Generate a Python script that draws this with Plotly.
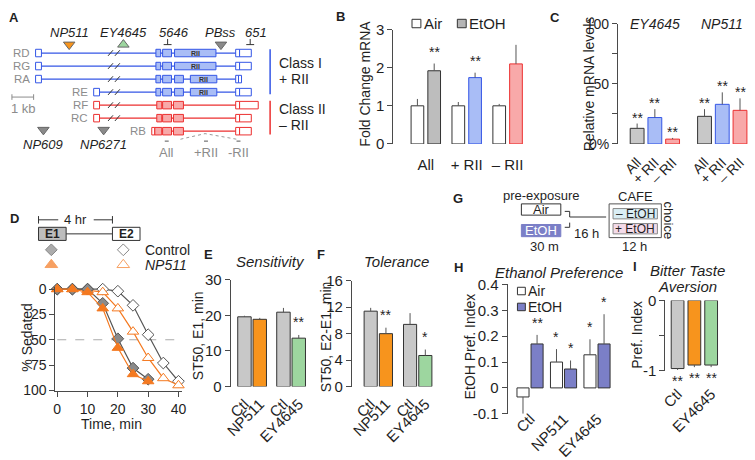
import plotly.graph_objects as go

W, H = 755, 460
FONT = "Arial, Liberation Sans, Helvetica, sans-serif"
INK = "#1f1f1f"
AXC = "#4a4a4a"
LGRAY = "#8c8c8c"
GRAY = "#c8c8c8"
ORANGE = "#f7941d"
ORANGE_L = "#f47920"
GREEN = "#9dd69f"
BLUE_F = "#a9bdf6"
BLUE_L = "#3456e6"
RED_F = "#f8a9a9"
RED_L = "#ec2f2f"
SLATE = "#7b7fc7"

# ===================== DATA =====================
# Panel A (gene schematic, positions in kb)
a_names = ["RD", "RG", "RA", "RE", "RF", "RC", "RB"]
a_class = ["I", "I", "I", "I", "II", "II", "II"]
a_exons = [
    [(0, 0.27, "u"), (5.55, 5.77, "c"), (5.86, 6.27, "c"), (6.41, 8.32, "r"), (9.23, 9.41, "u"), (9.41, 9.95, "u")],
    [(0, 0.27, "u"), (5.55, 5.77, "c"), (5.86, 6.27, "c"), (6.41, 8.32, "r"), (9.23, 9.41, "u"), (9.41, 9.95, "u")],
    [(0, 0.27, "u"), (5.55, 5.77, "c"), (5.86, 6.27, "c"), (6.41, 6.82, "c"), (7.14, 8.36, "r"), (9.23, 9.36, "u"), (9.36, 9.5, "u")],
    [(2.68, 2.95, "u"), (5.55, 5.77, "c"), (5.86, 6.27, "c"), (6.41, 6.82, "c"), (7.14, 8.36, "r"), (9.23, 9.41, "u"), (9.41, 9.95, "u")],
    [(2.68, 2.95, "u"), (5.59, 5.82, "c"), (5.86, 6.27, "c"), (6.36, 6.82, "c"), (9.23, 9.41, "u"), (9.41, 10.27, "u")],
    [(2.68, 2.95, "u"), (5.59, 5.82, "c"), (5.86, 6.27, "c"), (6.36, 6.82, "c"), (9.23, 9.41, "u"), (9.41, 9.95, "u")],
    [(5.36, 5.5, "u"), (5.5, 5.82, "c"), (5.86, 6.27, "c"), (6.36, 6.82, "c"), (9.23, 9.41, "u"), (9.41, 9.95, "u")],
]
a_break = (3.32, 3.91)
a_ins_names = ["NP511", "EY4645", "PBss", "NP609", "NP6271"]
a_ins_kb = [1.55, 4.05, 8.55, 0.36, 3.14]
a_ins_side = ["top", "top", "top", "bottom", "bottom"]
a_ins_symbol = ["triangle-down", "triangle-up", "triangle-down", "triangle-down", "triangle-down"]
a_ins_color = [ORANGE, GREEN, "#8a8a8a", "#8a8a8a", "#8a8a8a"]
a_end_names = ["5646", "651"]
a_end_kb = [6.09, 9.9]
a_primer_names = ["All", "+RII", "-RII"]
a_primer_kb = [6.05, 7.86, 9.36]

# Panel B
b_groups = ["All", "+ RII", "– RII"]
b_air = [1.0, 1.0, 1.0]
b_air_err = [0.18, 0.10, 0.05]
b_etoh = [1.92, 1.74, 2.10]
b_etoh_err = [0.19, 0.13, 0.50]
b_etoh_sig = ["**", "**", ""]

# Panel C
c_genes = ["EY4645", "NP511"]
c_isoforms = ["All", "+ RII", "– RII"]
c_ey = [13, 22, 4]
c_ey_err = [4, 7, 1]
c_np = [23, 33, 28]
c_np_err = [6, 10, 10]
c_sig = ["**", "**", "**", "**", "**", "**"]

# Panel D
d_time_e1 = [0, 5, 10, 15, 20, 25, 30]
d_ctl_e1 = [0, 0, 0, 14, 49, 78, 89]
d_np_e1 = [0, 0, 3, 19, 58, 84, 91]
d_time_e2 = [0, 5, 10, 15, 20, 25, 30, 35, 40]
d_ctl_e2 = [0, 0, 0, 0, 2, 16, 45, 73, 91]
d_np_e2 = [0, 0, 1, 3, 19, 42, 68, 88, 95]

# Panel E
e_labels = ["Ctl", "NP511", "Ctl", "EY4645"]
e_vals = [19.6, 18.9, 20.9, 13.6]
e_err = [0.3, 0.4, 1.2, 0.9]
e_sig = ["", "", "", "**"]

# Panel F
f_labels = ["Ctl", "NP511", "Ctl", "EY4645"]
f_vals = [11.4, 8.0, 9.4, 4.7]
f_err = [0.5, 0.9, 1.7, 0.9]
f_sig = ["", "**", "", "*"]

# Panel H
h_groups = ["Ctl", "NP511", "EY4645"]
h_air = [-0.035, 0.10, 0.128]
h_air_err = [0.065, 0.05, 0.06]
h_etoh = [0.17, 0.073, 0.17]
h_etoh_err = [0.035, 0.033, 0.115]
h_air_sig = ["", "*", "*"]
h_etoh_sig = ["**", "*", "*"]

# Panel I
i_labels = ["Ctl", "NP511", "EY4645"]
i_vals = [-0.97, -0.92, -0.92]
i_err = [0.02, 0.03, 0.03]
i_sig = ["**", "**", "**"]

# ===================== HELPERS =====================
fig = go.Figure()


def xd(x0, x1):
    return [x0 / W, x1 / W]


def yd(top, bottom):
    return [1 - bottom / H, 1 - top / H]


def fnt(size, color=INK):
    return dict(family=FONT, size=size, color=color)


def ann(x, y, text, size=13, color=INK, xanchor="center", angle=0, yanchor="middle"):
    fig.add_annotation(x=x, y=y, xref="x", yref="y", text=text, showarrow=False,
                       font=fnt(size, color), xanchor=xanchor, yanchor=yanchor,
                       textangle=angle, borderpad=0)


def rect(x0, y0, x1, y1, fill="white", line=INK, lw=1):
    fig.add_shape(type="rect", xref="x", yref="y", x0=x0, y0=y0, x1=x1, y1=y1,
                  fillcolor=fill, line=dict(color=line, width=lw), layer="above")


def seg(x0, y0, x1, y1, color=INK, lw=1, dash=None):
    fig.add_shape(type="line", xref="x", yref="y", x0=x0, y0=y0, x1=x1, y1=y1,
                  line=dict(color=color, width=lw, dash=dash), layer="above")


def errs(vals, es):
    plus = [e if v >= 0 else 0 for v, e in zip(vals, es)]
    minus = [e if v < 0 else 0 for v, e in zip(vals, es)]
    return dict(type="data", symmetric=False, array=plus, arrayminus=minus,
                color="#555555", thickness=1, width=0)


def bar(ax, x, y, e, fill, line, width, offset=None):
    fig.add_trace(go.Bar(x=x, y=y, width=width, offset=offset, xaxis="x" + ax, yaxis="y" + ax,
                         marker=dict(color=fill, line=dict(color=line, width=1)),
                         error_y=errs(y, e), showlegend=False, hoverinfo="skip"))


def stars(ax, xs, vals, es, labels, yshift=0, size=14):
    for x, v, e, s in zip(xs, vals, es, labels):
        if not s:
            continue
        below = v < 0
        fig.add_annotation(x=x, y=(v - e) if below else (v + e), xref="x" + ax, yref="y" + ax,
                           text=s, showarrow=False, font=fnt(size),
                           yanchor="top" if below else "bottom",
                           yshift=-yshift if below else yshift)


# ===================== PANEL A =====================
def kx(kb):
    return 29 + 22 * kb


def ry(r):
    return 47 + 13.9 * r


for r, (name, cls, exons) in enumerate(zip(a_names, a_class, a_exons)):
    y = ry(r)
    cl = BLUE_L if cls == "I" else RED_L
    cf = BLUE_F if cls == "I" else RED_F
    xs, xe = kx(exons[0][0]), kx(exons[-1][1])
    seg(xs, y, xe, y, cl, 1.3)
    if exons[0][0] < a_break[0]:
        for c in (kx(a_break[0]) + 3, kx(a_break[1]) - 3):
            seg(c - 2.5, y + 3, c + 2.5, y - 3, "#333333", 1)
    for s, e, k in exons:
        rect(kx(s), y - 4, kx(e), y + 4, "white" if k == "u" else cf, cl, 1)
        if k == "r":
            ann((kx(s) + kx(e)) / 2, y, "<b>RII</b>", 7, "#333333")
    ann(xs - 5, y, name, 11.5, LGRAY, xanchor="right")

# class brackets
seg(267, 43, 267, 91, BLUE_L, 1.5)
seg(267, 98, 267, 134, RED_L, 1.5)
ann(275, 58, "Class I", 14, xanchor="left")
ann(275, 75, "+ RII", 14, xanchor="left")
ann(275, 107, "Class II", 14, xanchor="left")
ann(275, 124, "– RII", 14, xanchor="left")

# scale bar
seg(5, 94, 27, 94, LGRAY, 1)
seg(5, 91, 5, 97, LGRAY, 1)
seg(27, 91, 27, 97, LGRAY, 1)
ann(17, 106, "1 kb", 13, LGRAY)

# insertions
ins_x = [kx(k) for k in a_ins_kb]
ins_y = [38 if s == "top" else 129 for s in a_ins_side]
fig.add_trace(go.Scatter(x=ins_x, y=ins_y, xaxis="x", yaxis="y", mode="markers",
                         marker=dict(symbol=a_ins_symbol, size=10, color=a_ins_color,
                                     line=dict(color="#666666", width=1)),
                         showlegend=False, hoverinfo="skip", cliponaxis=False))
for nm, x, s in zip(a_ins_names, ins_x, a_ins_side):
    ann(x, 25 if s == "top" else 145, "<i>%s</i>" % nm, 13)
for nm, k in zip(a_end_names, a_end_kb):
    x = kx(k)
    seg(x, 32, x, 38, "#333333", 1)
    seg(x - 4, 38, x + 4, 38, "#333333", 1)
    ann(x + 6, 25, "<i>%s</i>" % nm, 13)

# primers
for nm, k in zip(a_primer_names, a_primer_kb):
    x = kx(k)
    seg(x - 2, 141, x + 2, 141, "#555555", 1)
    ann(x, 153, nm, 13, LGRAY)
fig.add_shape(type="path", xref="x", yref="y", path="M 176 139 L 201 133 L 233 139",
              line=dict(color="#999999", width=1, dash="dot"), layer="above")

# ===================== PANEL B =====================
BW = 0.31
bar("2", b_groups, b_air, b_air_err, "white", "#333333", BW, -0.36)
bar("2", b_groups, b_etoh, b_etoh_err, ["#bdbdbd", BLUE_F, RED_F], ["#333333", BLUE_L, RED_L], BW, 0.05)
stars("2", [i + 0.05 + BW / 2 for i in range(len(b_groups))], b_etoh, b_etoh_err, b_etoh_sig, 2)
rect(411, 11, 420, 20, "white", "#333333")
ann(422, 15.5, "Air", 15, xanchor="left")
rect(457, 11, 466, 20, "#b5b5b5", "#333333")
ann(468, 15.5, "EtOH", 15, xanchor="left")
ann(363, 80, "Fold Change mRNA", 14, angle=-90)

# ===================== PANEL C =====================
c_pos = [g * 3.8 + k for g in range(len(c_genes)) for k in range(len(c_isoforms))]
c_vals = c_ey + c_np
c_errs = c_ey_err + c_np_err
c_ticks = c_isoforms * len(c_genes)
bar("3", c_pos, c_vals, c_errs, [GRAY, BLUE_F, RED_F] * 2, ["#333333", BLUE_L, RED_L] * 2, 0.78)
stars("3", c_pos, c_vals, c_errs, c_sig, -4)
for g, nm in enumerate(c_genes):
    fig.add_annotation(x=g * 3.8 + 1, y=100, xref="x3", yref="y3", text="<i>%s</i>" % nm,
                       showarrow=False, font=fnt(14), yshift=0)
ann(591, 80, "Relative mRNA levels", 14, angle=-90)

# ===================== PANEL D =====================
ann(70, 225, "4 hr", 13)
seg(32, 225, 52, 225, "#333333")
seg(88, 225, 107, 225, "#333333")
seg(32, 221, 32, 229, "#333333")
seg(107, 221, 107, 229, "#333333")
seg(60, 240, 107, 240, "#333333")
rect(32, 233, 60, 247, "#bdbdbd", "#333333")
rect(107, 233, 135, 247, "white", "#333333")
ann(46, 240, "<b>E1</b>", 12)
ann(121, 240, "<b>E2</b>", 12)
fig.add_trace(go.Scatter(x=[45, 118, 45, 118], y=[257, 257, 273, 273], xaxis="x", yaxis="y",
                         mode="markers",
                         marker=dict(symbol=["diamond", "diamond", "triangle-up", "triangle-up"],
                                     size=[9, 9, 11, 11],
                                     color=["#8a8a8a", "white", ORANGE_L, "white"],
                                     line=dict(color=["#555555", "#555555", ORANGE_L, ORANGE_L], width=1)),
                         showlegend=False, hoverinfo="skip", cliponaxis=False))
ann(139, 257, "Control", 14, xanchor="left")
ann(139, 273, "<i>NP511</i>", 14, xanchor="left")

fig.add_shape(type="line", xref="x4", yref="y4", x0=0, x1=41, y0=50, y1=50,
              line=dict(color="#aaaaaa", width=1, dash="dash"), layer="below")
for xs_, ys_, sym, fill, lc in [
    (d_time_e2, d_ctl_e2, "diamond", "white", "#555555"),
    (d_time_e2, d_np_e2, "triangle-up", "white", ORANGE_L),
    (d_time_e1, d_ctl_e1, "diamond", "#8a8a8a", "#555555"),
    (d_time_e1, d_np_e1, "triangle-up", ORANGE_L, ORANGE_L),
]:
    fig.add_trace(go.Scatter(x=xs_, y=ys_, xaxis="x4", yaxis="y4", mode="lines+markers",
                             line=dict(color=lc, width=1.2),
                             marker=dict(symbol=sym, size=9 if sym == "diamond" else 10, color=fill,
                                         line=dict(color=lc, width=1)),
                             showlegend=False, hoverinfo="skip", cliponaxis=False))
ann(20, 350, "% Sedated", 14, angle=-90)
ann(106, 443, "Time, min", 14)

# ===================== PANEL E =====================
e_pos = [p * 2.55 + b for p in range(2) for b in range(2)]
bar("5", e_pos, e_vals, e_err, [GRAY, ORANGE, GRAY, GREEN], "#333333", 0.88)
stars("5", e_pos, e_vals, e_err, e_sig, 3)
ann(267, 270, "<i>Sensitivity</i>", 15)
ann(194, 349, "ST50, E1, min", 14, angle=-90)

# ===================== PANEL F =====================
f_pos = [p * 2.58 + b for p in range(2) for b in range(2)]
bar("6", f_pos, f_vals, f_err, [GRAY, ORANGE, GRAY, GREEN], "#333333", 0.86)
stars("6", f_pos, f_vals, f_err, f_sig, 3)
ann(395, 270, "<i>Tolerance</i>", 15)
ann(324, 350, "ST50, E2-E1, min", 14, angle=-90)

# ===================== PANEL G =====================
ann(542, 199, "pre-exposure", 13)
ann(638, 200, "CAFE", 13)
rect(522, 208, 562, 220, "white", "#333333")
ann(542, 214.5, "Air", 13)
rect(522, 230, 562, 243, SLATE, SLATE)
ann(542, 236.5, "EtOH", 13, "white")
ann(545, 253, "30 m", 13)
fig.add_shape(type="path", xref="x", yref="y", path="M 566 216 L 571 216 L 571 222 L 608 222",
              line=dict(color="#333333", width=1), layer="above")
fig.add_shape(type="path", xref="x", yref="y", path="M 566 233 L 571 233 L 571 228",
              line=dict(color="#333333", width=1), layer="above")
ann(588, 240, "16 h", 13)
rect(611, 208, 664, 244, "white", "#555555")
rect(615, 213, 660, 224, "#d9eef5", "#888888")
ann(637.5, 218.5, "– EtOH", 12)
rect(615, 229, 660, 240, "#f4dbe9", "#888888")
ann(637.5, 234.5, "+ EtOH", 12)
ann(671, 226, "choice", 13, angle=90)
ann(637, 253, "12 h", 13)

# ===================== PANEL H =====================
HW = 0.36
hx = range(len(h_groups))
bar("7", h_groups, h_air, h_air_err, "white", "#333333", HW, -0.40)
bar("7", h_groups, h_etoh, h_etoh_err, SLATE, "#333333", HW, 0.02)
stars("7", [i - 0.40 + HW / 2 for i in hx], h_air, h_air_err, h_air_sig, 2)
stars("7", [i + 0.02 + HW / 2 for i in hx], h_etoh, h_etoh_err, h_etoh_sig, 2)
rect(518, 297, 526, 305, "white", "#333333")
ann(528, 301, "Air", 14, xanchor="left")
rect(518, 314, 526, 322, SLATE, "#333333")
ann(528, 318, "EtOH", 14, xanchor="left")
ann(560, 281, "<i>Ethanol Preference</i>", 15)
ann(470, 360, "EtOH Pref. Index", 14, angle=-90)

# ===================== PANEL I =====================
bar("8", i_labels, i_vals, i_err, [GRAY, ORANGE, GREEN], "#333333", 0.76)
stars("8", list(range(len(i_labels))), i_vals, i_err, i_sig, 1)
ann(691, 279, "<i>Bitter Taste</i>", 15)
ann(691, 296, "<i>Aversion</i>", 15)
ann(639, 348, "Pref. Index", 14, angle=-90)

# panel letters
for L, x, y in [("A", 7, 9), ("B", 338, 8), ("C", 556, 9), ("D", 8, 224), ("E", 204, 262),
                ("F", 319, 262), ("G", 458, 202), ("H", 458, 276), ("I", 637, 275)]:
    ann(x, y, "<b>%s</b>" % L, 13)


# ===================== AXES =====================
def yax(dom, rng, vals, text, size, anchor):
    return dict(domain=dom, range=rng, anchor=anchor, showline=True, linecolor=AXC, linewidth=1,
                ticks="outside", ticklen=5, tickwidth=1, tickcolor=AXC, tickmode="array",
                tickvals=vals, ticktext=text, tickfont=fnt(size), showgrid=False,
                zeroline=False, fixedrange=True)


def xax(dom, rng, anchor, size, angle=0, vals=None, text=None, typ="linear", ticklen=5, pos=None):
    d = dict(domain=dom, range=rng, anchor=anchor, type=typ, showline=False, showgrid=False,
             zeroline=False, ticks="outside", ticklen=ticklen, tickcolor="rgba(0,0,0,0)",
             tickfont=fnt(size), tickangle=angle, fixedrange=True)
    if pos is not None:
        d.update(anchor="free", position=1 - pos / H)
    if vals is not None:
        d.update(tickmode="array", tickvals=vals, ticktext=text)
    return d


d_x = dict(domain=xd(49, 178), range=[-0.65, 41.3], anchor="y4", showline=True, linecolor=AXC,
           linewidth=1, ticks="outside", ticklen=5, tickcolor=AXC, tickmode="array",
           tickvals=[0, 10, 20, 30, 40], tickfont=fnt(14), showgrid=False, zeroline=False,
           fixedrange=True)

fig.update_layout(
    width=W, height=H, autosize=False,
    margin=dict(l=0, r=0, t=0, b=0),
    paper_bgcolor="white", plot_bgcolor="rgba(0,0,0,0)",
    barmode="overlay", showlegend=False,
    font=fnt(13),
    xaxis=dict(domain=[0, 1], range=[0, W], visible=False, anchor="y", fixedrange=True),
    yaxis=dict(domain=[0, 1], range=[H, 0], visible=False, anchor="x", fixedrange=True),
    xaxis2=xax(xd(392, 530), [-0.795, 2.53], "y2", 15, typ="category", ticklen=7),
    yaxis2=yax(yd(22, 144), [0, 3], [0, 1, 2, 3], ["0", "1", "2", "3"], 15, "x2"),
    xaxis3=xax(xd(620, 755), [-1.08, 6.42], "y3", 14, -45, c_pos, c_ticks, ticklen=4),
    yaxis3=yax(yd(16, 144), [0, 100], [0, 25, 50, 75, 100], ["0%", "", "50", "", "100"], 14, "x3"),
    xaxis4=d_x,
    yaxis4=yax(yd(297, 408), [100.9, -1.85], [0, 25, 50, 75, 100], ["0", "25", "50", "75", "100"], 14, "x4"),
    xaxis5=xax(xd(227, 315), [-0.9, 4.77], "y5", 15, -45, e_pos, e_labels, ticklen=2),
    yaxis5=yax(yd(289, 403), [0, 30], [0, 10, 20, 30], ["0", "10", "20", "30"], 15, "x5"),
    xaxis6=xax(xd(350, 440), [-1.23, 4.58], "y6", 15, -45, f_pos, f_labels, ticklen=2),
    yaxis6=yax(yd(290, 403), [0, 16], [0, 4, 8, 12, 16], ["0", "4", "8", "12", "16"], 15, "x6"),
    xaxis7=xax(xd(508, 630), [-0.68, 2.91], "y7", 15, -45, typ="category", ticklen=0, pos=421),
    yaxis7=yax(yd(294, 432), [-0.1, 0.4], [-0.1, 0, 0.1, 0.2, 0.3, 0.4],
               ["-0.1", "0", "0.1", "0.2", "0.3", "0.4"], 15, "x7"),
    xaxis8=xax(xd(668, 728), [-0.735, 2.79], "y8", 15, -45, typ="category", ticklen=8),
    yaxis8=yax(yd(311, 386), [-1, 0], [-1, -0.5, 0], ["-1", "", "0"], 15, "x8"),
)

fig.write_html("out.html", config={"displayModeBar": False},
               post_script="document.body.style.margin='0';document.body.style.overflow='hidden';")
